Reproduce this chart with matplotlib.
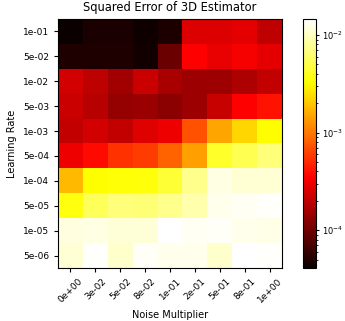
import numpy as np
import matplotlib
matplotlib.use("Agg")
import matplotlib.pyplot as plt
from matplotlib.colors import LogNorm

noise_labels = ["0e+00", "3e-02", "5e-02", "8e-02", "1e-01", "2e-01", "5e-01", "8e-01", "1e+00"]
lr_labels = ["1e-01", "5e-02", "1e-02", "5e-03", "1e-03", "5e-04", "1e-04", "5e-05", "1e-05", "5e-06"]

row_1e01 = [4.1e-5, 4.8e-5, 4.8e-5, 4.3e-5, 4.9e-5, 2.6e-4, 2.6e-4, 2.8e-4, 2.0e-4]
row_5e02 = [5.0e-5, 5.0e-5, 5.0e-5, 4.4e-5, 9.7e-5, 3.5e-4, 2.9e-4, 3.3e-4, 2.8e-4]
row_1e02 = [2.35e-4, 1.97e-4, 1.58e-4, 2.24e-4, 1.65e-4, 1.51e-4, 1.51e-4, 1.73e-4, 2.06e-4]
row_5e03 = [2.24e-4, 1.88e-4, 1.39e-4, 1.45e-4, 1.27e-4, 1.51e-4, 2.15e-4, 3.48e-4, 4.16e-4]
row_1e03 = [2.06e-4, 2.35e-4, 2.06e-4, 2.68e-4, 3.06e-4, 7.06e-4, 1.49e-3, 2.3e-3, 3.27e-3]
row_5e04 = [3.06e-4, 3.8e-4, 5.42e-4, 5.92e-4, 8.4e-4, 1.42e-3, 4.14e-3, 5.24e-3, 6.62e-3]
row_1e04 = [1.77e-3, 3.27e-3, 3.39e-3, 3.47e-3, 4.47e-3, 7.41e-3, 1.22e-2, 1.12e-2, 1.12e-2]
row_5e05 = [3.55e-3, 5.56e-3, 6.62e-3, 6.46e-3, 7.41e-3, 8.9e-3, 1.3e-2, 1.34e-2, 1.41e-2]
row_1e05 = [1.19e-2, 1.22e-2, 1.15e-2, 1.15e-2, 1.46e-2, 1.34e-2, 1.38e-2, 1.3e-2, 1.26e-2]
row_5e06 = [1.12e-2, 1.41e-2, 1.08e-2, 1.38e-2, 1.3e-2, 1.3e-2, 1.08e-2, 1.46e-2, 1.41e-2]

data = np.array([row_1e01, row_5e02, row_1e02, row_5e03, row_1e03,
                 row_5e04, row_1e04, row_5e05, row_1e05, row_5e06])

W, H = 345, 321
fig = plt.figure(figsize=(W / 100, H / 100), dpi=100)
ax = fig.add_axes([58 / W, 1 - 268 / H, (282 - 58) / W, (268 - 19) / H])
cax = fig.add_axes([303 / W, 1 - 268 / H, (316 - 303) / W, (268 - 19) / H])

im = ax.imshow(data, cmap="hot", norm=LogNorm(), aspect="auto", interpolation="nearest")
ax.set_xticks(np.arange(len(noise_labels)))
ax.set_xticklabels(noise_labels, rotation=45, fontsize=6.5)
ax.set_yticks(np.arange(len(lr_labels)))
ax.set_yticklabels(lr_labels, fontsize=6.5)
ax.tick_params(length=3, width=0.8)
ax.set_xlabel("Noise Multiplier", fontsize=7)
ax.set_ylabel("Learning Rate", fontsize=7)
ax.set_title("Squared Error of 3D Estimator", fontsize=8.3)

cb = fig.colorbar(im, cax=cax)
cb.ax.tick_params(which="major", labelsize=6, length=2.5, pad=1.5)
cb.ax.tick_params(which="minor", length=1.5)

fig.savefig("out.png", dpi=100)
